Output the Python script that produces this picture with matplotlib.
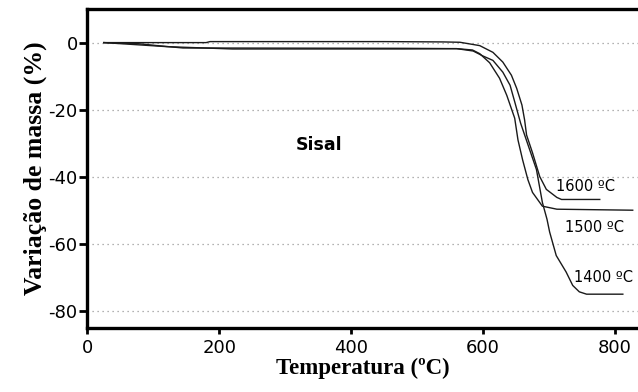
import matplotlib
matplotlib.use("Agg")
from matplotlib import pyplot as plt

plt.rcParams["axes.unicode_minus"] = False

# TGA curves for sisal
t_1600 = [25, 100, 180, 186, 450, 540, 565, 595, 615, 630, 643, 651, 659, 663, 666, 675, 686, 696, 712, 719, 777]
m_1600 = [0, 0, 0, 0.3, 0.3, 0.2, 0.1, -0.9, -2.9, -5.8, -9.7, -13.6, -18.6, -23, -27.5, -32.8, -39.9, -43.7, -46.1, -46.7, -46.7]

t_1500 = [25, 76, 106, 145, 480, 560, 584, 595, 610, 625, 636, 648, 653, 660, 668, 675, 690, 712, 827]
m_1500 = [0, -0.3, -0.9, -1.6, -1.7, -1.8, -2.2, -3.3, -6, -10.6, -15.7, -22.5, -29, -34.9, -40.8, -44.6, -48.7, -49.6, -49.9]

t_1400 = [25, 120, 220, 480, 560, 585, 600, 615, 630, 641, 648, 657, 681, 690, 697, 701, 711, 726, 736, 746, 757, 812]
m_1400 = [0, -1.2, -1.9, -1.9, -1.8, -2.5, -4, -5.3, -8.8, -12.7, -17.6, -24, -37.8, -47.6, -52.6, -56.4, -63.4, -68.3, -72.3, -74.2, -74.9, -74.9]

labels = ["1600 ºC", "1500 ºC", "1400 ºC"]
label_pos = [(756, -42.7), (769, -55), (783, -70)]

fig = plt.figure(figsize=(6.38, 3.92), dpi=100)
ax = fig.add_axes([0.137, 0.163, 0.863, 0.814])

for t, m in [(t_1600, m_1600), (t_1500, m_1500), (t_1400, m_1400)]:
    ax.plot(t, m, color="#1a1a1a", lw=1.0)

for lab, (x, y) in zip(labels, label_pos):
    ax.text(x, y, lab, fontsize=10.5, family="DejaVu Sans", ha="center", va="center")

ax.text(351, -30.4, "Sisal", fontsize=12.5, family="DejaVu Sans", weight="bold",
        ha="center", va="center")

ax.set_xlim(0, 835)
ax.set_ylim(-85, 10)
ax.set_xticks([0, 200, 400, 600, 800])
ax.set_yticks([0, -20, -40, -60, -80])
ax.yaxis.grid(True, linestyle=(0, (1, 3)), color="#999999", lw=0.9)
ax.set_axisbelow(True)

for s in ["left", "bottom", "top"]:
    ax.spines[s].set_linewidth(2.4)
ax.spines["right"].set_visible(False)

ax.tick_params(direction="out", width=2, labelsize=13)
ax.tick_params(axis="x", length=4.5, pad=3)
ax.tick_params(axis="y", length=6, pad=1)
for lbl in ax.get_xticklabels() + ax.get_yticklabels():
    lbl.set_family("DejaVu Sans")

ax.set_xlabel("Temperatura (ºC)", fontsize=16.5, family="Liberation Serif", weight="bold", labelpad=1)
ax.set_ylabel("Variação de massa (%)", fontsize=18.5, family="Liberation Serif", weight="bold", labelpad=1)

plt.savefig("out.png", dpi=100)
